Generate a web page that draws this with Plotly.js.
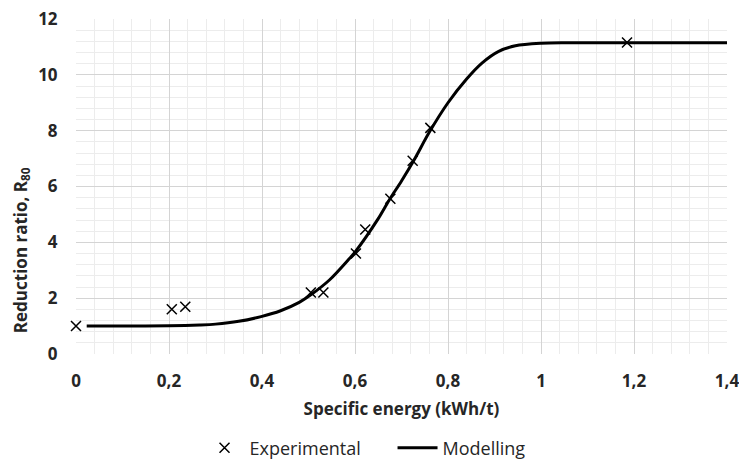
<!DOCTYPE html>
<html>
<head>
<meta charset="utf-8">
<script src="https://cdn.plot.ly/plotly-3.0.1.min.js"></script>
<style>html,body{margin:0;padding:0;background:#fff;}#chart{width:739px;height:459px;}</style>
</head>
<body>
<div id="chart"></div>
<script>
// Experimental points
var expX = [0, 0.206, 0.235, 0.505, 0.532, 0.602, 0.622, 0.676, 0.724, 0.762, 1.185];
var expY = [1.0, 1.6, 1.69, 2.2, 2.2, 3.6, 4.46, 5.56, 6.92, 8.1, 11.16];

// Modelling curve
var modX = [0.023, 0.1, 0.2, 0.266, 0.3, 0.35, 0.398, 0.44, 0.48, 0.505, 0.545, 0.587, 0.6, 0.65, 0.673, 0.7, 0.727, 0.76, 0.8, 0.84, 0.873, 0.909, 0.945, 1.0, 1.05, 1.2, 1.4];
var modY = [1.0, 1.0, 1.01, 1.04, 1.07, 1.17, 1.34, 1.55, 1.85, 2.12, 2.65, 3.4, 3.65, 4.85, 5.5, 6.2, 6.95, 7.95, 9.0, 9.85, 10.42, 10.84, 11.04, 11.13, 11.15, 11.15, 11.15];

var xTickVals = [0, 0.2, 0.4, 0.6, 0.8, 1, 1.2, 1.4];
var xTickText = ["0", "0,2", "0,4", "0,6", "0,8", "1", "1,2", "1,4"];
var yTickVals = [0, 2, 4, 6, 8, 10, 12];

var traces = [
  {
    x: expX, y: expY, type: 'scatter', mode: 'markers', name: 'Experimental', cliponaxis: false,
    marker: {symbol: 'x-thin-open', size: 10, color: '#000', line: {color: '#000', width: 1.5}}
  },
  {
    x: modX, y: modY, type: 'scatter', mode: 'lines', name: 'Modelling',
    line: {color: '#000', width: 3, shape: 'spline', smoothing: 0.85}
  }
];

var bold = {family: 'Open Sans, sans-serif', size: 17, color: '#262626', weight: 'bold'};

var layout = {
  width: 739, height: 459,
  margin: {l: 76, r: 12, t: 19, b: 105, autoexpand: false},
  paper_bgcolor: '#fff', plot_bgcolor: '#fff',
  showlegend: true,
  legend: {orientation: 'h', x: 0.27, xanchor: 'left', xref: 'container',
           y: 0.064, yanchor: 'top', yref: 'container',
           entrywidth: 138, entrywidthmode: 'pixels',
           font: {family: 'Open Sans, sans-serif', size: 18, color: '#262626'}, itemwidth: 40},
  xaxis: {
    range: [0, 1.4], tickvals: xTickVals, ticktext: xTickText, automargin: false,
    ticklabeloverflow: 'allow',
    showgrid: true, gridcolor: '#d4d4d4', gridwidth: 1,
    zeroline: false, showline: false,
    ticks: 'outside', ticklen: 12, tickcolor: 'rgba(0,0,0,0)',
    tickfont: bold,
    minor: {dtick: 0.04, showgrid: true, gridcolor: '#ececec', gridwidth: 1},
    title: {text: 'Specific energy (kWh/t)', font: bold}
  },
  yaxis: {
    range: [0, 12], tickvals: yTickVals, automargin: false,
    showgrid: true, gridcolor: '#d4d4d4', gridwidth: 1,
    zeroline: false, showline: false,
    ticks: 'outside', ticklen: 14, tickcolor: 'rgba(0,0,0,0)',
    tickfont: bold,
    minor: {dtick: 0.4, showgrid: true, gridcolor: '#ececec', gridwidth: 1}
  },
  annotations: [{
    text: 'Reduction ratio, R<sub>80</sub>', textangle: -90, showarrow: false,
    xref: 'paper', yref: 'paper', x: 0, y: 0.31, xanchor: 'center', yanchor: 'middle',
    xshift: -55, font: bold
  }]
};

Plotly.newPlot('chart', traces, layout, {displayModeBar: false, staticPlot: true});
</script>
</body>
</html>
